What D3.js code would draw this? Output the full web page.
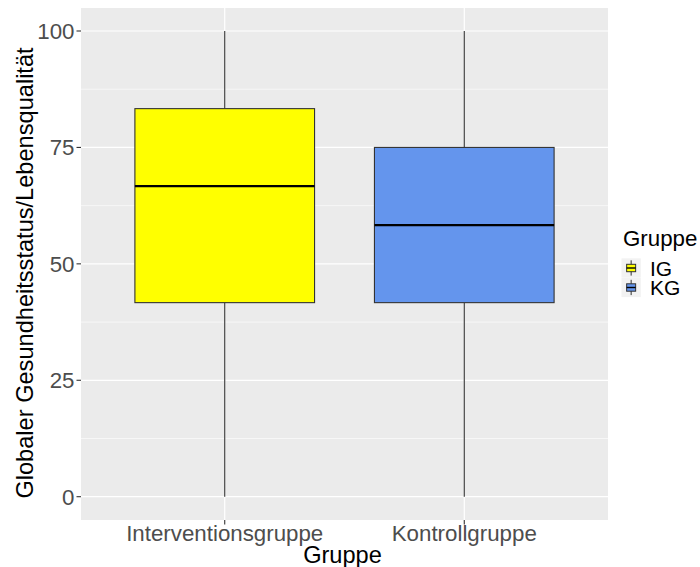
<!DOCTYPE html>
<html><head><meta charset="utf-8">
<script src="https://cdn.jsdelivr.net/npm/d3@7"></script>
<style>body{margin:0;background:#fff}svg{display:block;font-family:"Liberation Sans",Arial,sans-serif}</style>
</head><body><svg id="c" width="700" height="567"></svg>
<script>
const categories = ["Interventionsgruppe", "Kontrollgruppe"];
const groups = ["IG", "KG"];
const colors = ["#FFFF00", "#6495ED"];
const whiskerLow = [0, 0];
const q1 = [41.67, 41.67];
const median = [66.67, 58.33];
const q3 = [83.33, 75];
const whiskerHigh = [100, 100];
const yTicks = [0, 25, 50, 75, 100];
const yMinor = [12.5, 37.5, 62.5, 87.5];
const xTitle = "Gruppe";
const yTitle = "Globaler Gesundheitsstatus/Lebensqualität";
const legendTitle = "Gruppe";

const svg = d3.select("#c");
const P = {l: 81, r: 608, t: 8, b: 520};
const y = d3.scaleLinear().domain([0, 100]).range([496.7, 31]);
// discrete scale: positions 1,2 within [0.4,2.6]
const xs = d3.scaleLinear().domain([0.4, 2.6]).range([P.l, P.r]);
const xc = c => xs(categories.indexOf(c) + 1);
const bw = 0.75 * (xs(1) - xs(0));

svg.append("rect").attr("x", P.l).attr("y", P.t).attr("width", P.r - P.l).attr("height", P.b - P.t).attr("fill", "#EBEBEB");
const g = svg.append("g");
yMinor.forEach(v => g.append("line").attr("x1", P.l).attr("x2", P.r).attr("y1", y(v)).attr("y2", y(v)).attr("stroke", "#fff").attr("stroke-width", 0.6));
yTicks.forEach(v => g.append("line").attr("x1", P.l).attr("x2", P.r).attr("y1", y(v)).attr("y2", y(v)).attr("stroke", "#fff").attr("stroke-width", 1.2));
categories.forEach(c => g.append("line").attr("x1", xc(c)).attr("x2", xc(c)).attr("y1", P.t).attr("y2", P.b).attr("stroke", "#fff").attr("stroke-width", 1.2));

categories.forEach((c, i) => {
  const cx = xc(c);
  g.append("line").attr("x1", cx).attr("x2", cx).attr("y1", y(whiskerHigh[i])).attr("y2", y(q3[i])).attr("stroke", "#333").attr("stroke-width", 1.1);
  g.append("line").attr("x1", cx).attr("x2", cx).attr("y1", y(q1[i])).attr("y2", y(whiskerLow[i])).attr("stroke", "#333").attr("stroke-width", 1.1);
  g.append("rect").attr("x", cx - bw/2).attr("width", bw).attr("y", y(q3[i])).attr("height", y(q1[i]) - y(q3[i]))
    .attr("fill", colors[i]).attr("stroke", "#333").attr("stroke-width", 1.1);
  g.append("line").attr("x1", cx - bw/2).attr("x2", cx + bw/2).attr("y1", y(median[i])).attr("y2", y(median[i])).attr("stroke", "#000").attr("stroke-width", 2.2);
});

yTicks.forEach(v => {
  svg.append("line").attr("x1", 76.5).attr("x2", P.l).attr("y1", y(v)).attr("y2", y(v)).attr("stroke", "#333").attr("stroke-width", 1.1);
  svg.append("text").attr("x", 74.5).attr("y", y(v)).attr("dy", "0.36em").attr("text-anchor", "end")
    .attr("font-size", 22.3).attr("fill", "#4D4D4D").text(v);
});
categories.forEach(c => {
  svg.append("line").attr("x1", xc(c)).attr("x2", xc(c)).attr("y1", P.b).attr("y2", P.b + 4.5).attr("stroke", "#333").attr("stroke-width", 1.1);
  svg.append("text").attr("x", xc(c)).attr("y", 541).attr("text-anchor", "middle")
    .attr("font-size", 22.3).attr("fill", "#4D4D4D").text(c);
});
svg.append("text").attr("x", (P.l + P.r)/2 - 2).attr("y", 562.5).attr("text-anchor", "middle").attr("font-size", 23.6).attr("fill", "#000").text(xTitle);
svg.append("text").attr("transform", "translate(33.3,273) rotate(-90)").attr("text-anchor", "middle").attr("font-size", 23.6).attr("fill", "#000").text(yTitle);

svg.append("text").attr("x", 623).attr("y", 245.7).attr("font-size", 22.3).attr("fill", "#000").text(legendTitle);
groups.forEach((gname, i) => {
  const top = 258.3 + i * 19.5;
  const kx = 621.5, ks = 19.3, kc = kx + ks/2;
  svg.append("rect").attr("x", kx).attr("y", top).attr("width", ks).attr("height", 19.3).attr("fill", "#F2F2F2");
  svg.append("line").attr("x1", kc).attr("x2", kc).attr("y1", top + 2).attr("y2", top + 17.3).attr("stroke", "#333").attr("stroke-width", 1);
  svg.append("rect").attr("x", kc - 4.5).attr("y", top + 6).attr("width", 9).attr("height", 7.4).attr("fill", colors[i]).attr("stroke", "#333").attr("stroke-width", 1);
  svg.append("line").attr("x1", kc - 4.5).attr("x2", kc + 4.5).attr("y1", top + 9.7).attr("y2", top + 9.7).attr("stroke", "#000").attr("stroke-width", 1.4);
  svg.append("text").attr("x", 650).attr("y", top + 17.3).attr("font-size", 21).attr("fill", "#000").text(gname);
});
</script></body></html>
